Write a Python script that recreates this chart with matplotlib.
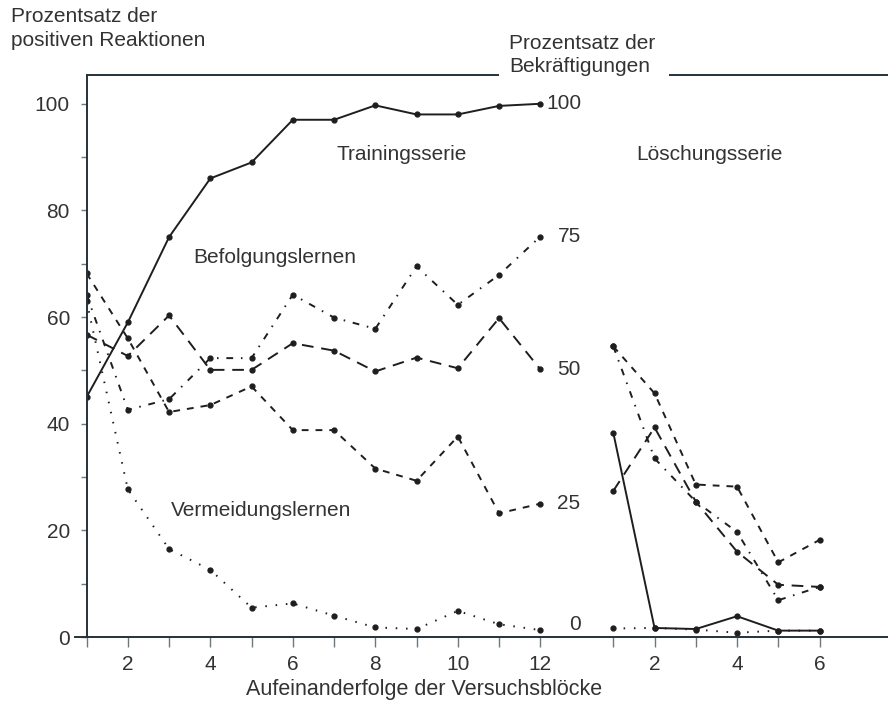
import numpy as np
import matplotlib
matplotlib.use("Agg")
import matplotlib.pyplot as plt
from matplotlib.lines import Line2D

plt.rcParams['font.family'] = ['Liberation Sans', 'DejaVu Sans']

# Versuchsbloecke (Trainingsserie 1..12, Loeschungsserie 1..6)
train_blocks = np.arange(1, 13)
ext_blocks = np.arange(1, 7)

# Prozentsatz der positiven Reaktionen, je Bekraeftigungsrate
r100_train = [45, 59, 75, 86, 89, 97, 97, 99.7, 98, 98, 99.6, 100]
r75_train = [64.2, 42.6, 44.6, 52.3, 52.3, 64.2, 59.9, 57.8, 69.5, 62.3, 67.9, 75.1]
r50_train = [56.7, 52.7, 60.3, 50.1, 50.1, 55.1, 53.7, 49.8, 52.4, 50.4, 59.8, 50.2]
r25_train = [68.2, 56.0, 42.2, 43.5, 47.0, 38.8, 38.8, 31.6, 29.3, 37.6, 23.2, 25.0]
r0_train = [63, 27.7, 16.5, 12.6, 5.5, 6.3, 4.0, 1.8, 1.5, 4.9, 2.4, 1.3]

r100_ext = [38.3, 1.7, 1.5, 3.9, 1.2, 1.2]
r75_ext = [54.5, 33.5, 25.4, 19.7, 6.9, 9.4]
r50_ext = [27.4, 39.3, 25.4, 16.0, 9.8, 9.4]
r25_ext = [54.5, 45.7, 28.6, 28.2, 14.0, 18.2]
r0_ext = [1.6, 1.7, 1.4, 0.8, 1.2, 1.2]

rate_labels = ["100", "75", "50", "25", "0"]

ink = '#1e1e1e'
axcol = '#24323a'
txt = '#333333'

fig = plt.figure(figsize=(8.88, 7.06), dpi=100)
ax = fig.add_axes([0.0975, 0.0977, 0.9025, 0.7961])

ext_offset = 12.77  # Loeschungsserie beginnt rechts von Block 12
ext_x = ext_blocks + ext_offset

styles = [
    (r100_train, r100_ext, '-'),
    (r75_train, r75_ext, (0, (3.5, 4, 0.8, 4))),   # Strich-Punkt
    (r50_train, r50_ext, (0, (6, 4))),             # lange Striche
    (r25_train, r25_ext, (0, (3.5, 3.6))),         # kurze Striche
    (r0_train, r0_ext, (0, (0.8, 4.5))),           # punktiert
]
for tr, ex, ls in styles:
    ax.plot(train_blocks, tr, linestyle=ls, color=ink, lw=1.4,
            marker='o', ms=3.5, mfc=ink, mec=ink)
    ax.plot(ext_x, ex, linestyle=ls, color=ink, lw=1.4,
            marker='o', ms=3.5, mfc=ink, mec=ink)

ax.set_xlim(1, 20.43)
ax.set_ylim(0, 105.4)

# Achsen
for s in ['top', 'right']:
    ax.spines[s].set_visible(False)
for s in ['left', 'bottom']:
    ax.spines[s].set_color(axcol)
    ax.spines[s].set_linewidth(1.4)
# oberer Rahmen mit Luecke fuer die Beschriftung
ax.add_line(Line2D([0, 0.513], [1, 1], transform=ax.transAxes, color=axcol, lw=1.4, clip_on=False))
ax.add_line(Line2D([0.728, 1], [1, 1], transform=ax.transAxes, color=axcol, lw=1.4, clip_on=False))
ax.add_line(Line2D([-0.014, 0], [0, 0], transform=ax.transAxes, color=axcol, lw=1.4, clip_on=False))

xt = list(train_blocks) + list(ext_x)
xl = [str(b) if b % 2 == 0 else '' for b in train_blocks] + [str(b) if b % 2 == 0 else '' for b in ext_blocks]
ax.set_xticks(xt)
ax.set_xticklabels(xl)
ax.tick_params(axis='x', direction='out', length=7, width=1, color='#6a7a80',
               labelsize=15, labelcolor=txt, pad=6)
ax.set_yticks([0, 20, 40, 60, 80, 100])
ax.set_yticks([10, 30, 50, 70, 90], minor=True)
ax.tick_params(axis='y', which='both', direction='out', length=4, width=1, color='#6a7a80',
               labelsize=15, labelcolor=txt, pad=8)

ax.set_xlabel("Aufeinanderfolge der Versuchsblöcke", fontsize=15.5, color=txt, labelpad=8)
ax.xaxis.set_label_coords(0.421, -0.075)

# Beschriftungen
fig.text(0.012, 0.99, "Prozentsatz der\npositiven Reaktionen", fontsize=15, color=txt,
         va='top', ha='left', linespacing=1.3)
fig.text(0.573, 0.952, "Prozentsatz der\nBekräftigungen", fontsize=15, color=txt,
         va='top', ha='left', linespacing=1.3)

ax.text(7.05, 90.4, "Trainingsserie", fontsize=15, color=txt, va='center')
ax.text(14.33, 90.4, "Löschungsserie", fontsize=15, color=txt, va='center')
ax.text(3.58, 71.1, "Befolgungslernen", fontsize=15, color=txt, va='center')
ax.text(3.05, 23.8, "Vermeidungslernen", fontsize=15, color=txt, va='center')

end_vals = [r100_train[-1], r75_train[-1], r50_train[-1], r25_train[-1], r0_train[-1] + 1]
end_x = [12.15, 12.43, 12.4, 12.4, 12.7]
for lab, xv, yv in zip(rate_labels, end_x, end_vals):
    ax.text(xv, yv, lab, fontsize=15, color=txt, va='center', ha='left')

fig.savefig("out.png", dpi=100)
